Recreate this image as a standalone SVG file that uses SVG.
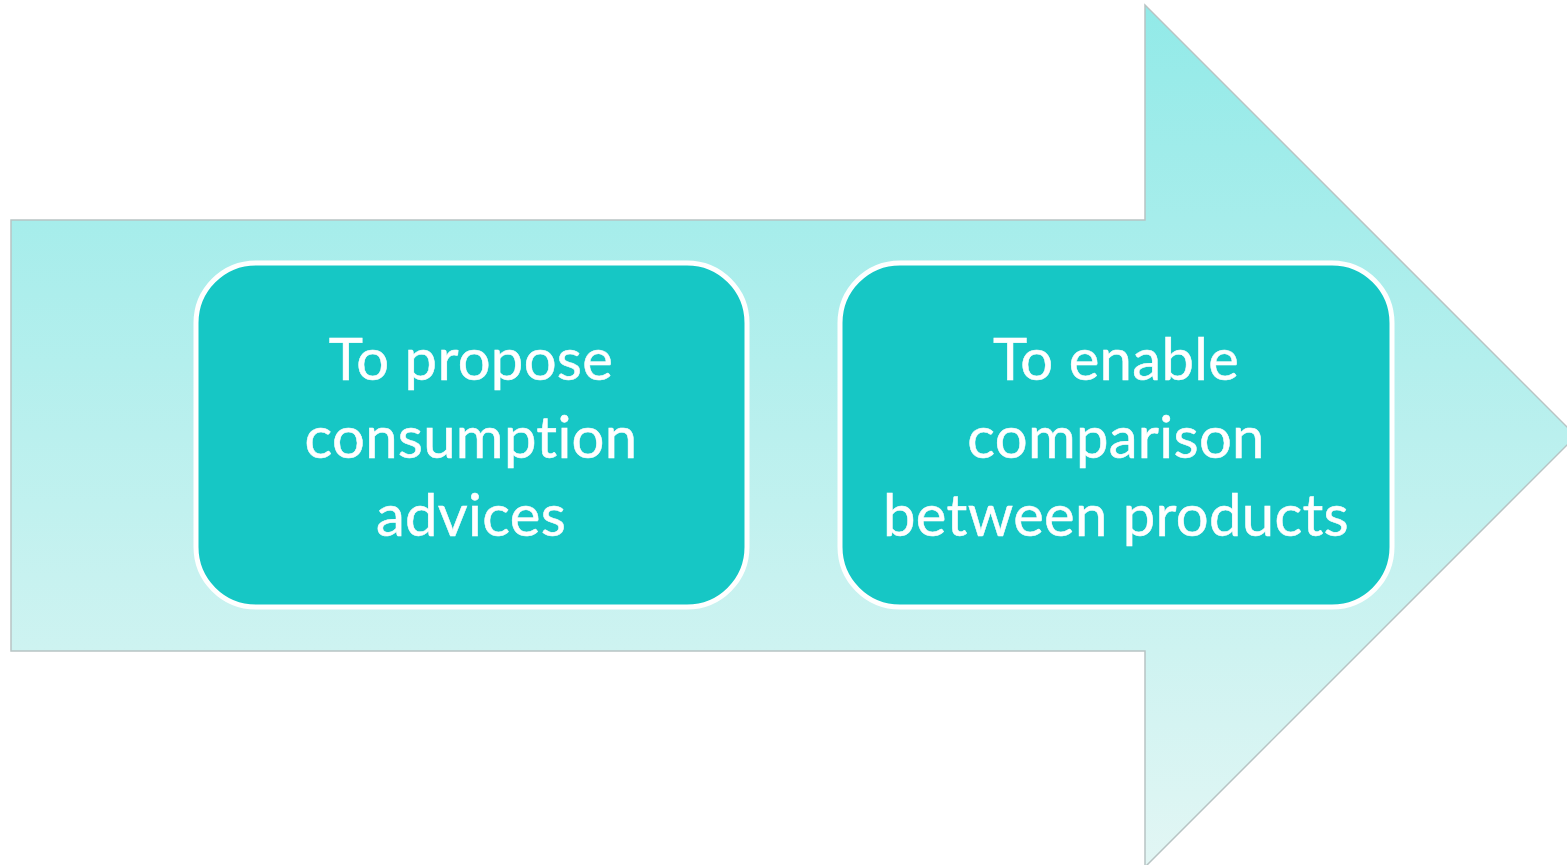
<svg xmlns="http://www.w3.org/2000/svg" width="1567" height="865" viewBox="0 0 1567 865">
<defs>
<linearGradient id="g" x1="0" y1="5" x2="0" y2="866" gradientUnits="userSpaceOnUse">
<stop offset="0" stop-color="#92eae8"/>
<stop offset="1" stop-color="#e2f6f4"/>
</linearGradient>
</defs>
<style>
.box{fill:#16c7c5;stroke:#ffffff;stroke-width:5}
.t{font-family:Lato,"Open Sans",sans-serif;font-size:58px;letter-spacing:0.3px;font-variant-ligatures:none;fill:#ffffff;stroke:#ffffff;stroke-width:0.5;text-anchor:middle}
</style>
<g id="arrow">
<path d="M11,220 H1145 V5 L1576,436 L1145,867 V651 H11 Z" fill="url(#g)" stroke="#b8c4c4" stroke-width="1.5"/>
</g>
<g id="node1">
<rect class="box" x="196" y="263" width="551" height="344" rx="60"/>
<text class="t" x="471" y="380">To propose</text>
<text class="t" x="471" y="458">consumption</text>
<text class="t" x="471" y="536">advices</text>
</g>
<g id="node2">
<rect class="box" x="840" y="263" width="552" height="344" rx="60"/>
<text class="t" x="1116" y="380">To enable</text>
<text class="t" x="1116" y="458">comparison</text>
<text class="t" x="1116" y="536">between products</text>
</g>
<g id="connectors"/>
</svg>
